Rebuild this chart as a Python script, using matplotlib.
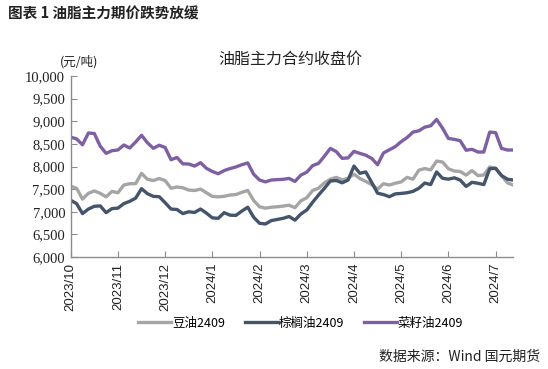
import numpy as np
import matplotlib
matplotlib.use("Agg")
import matplotlib.pyplot as plt

plt.rcParams['font.family'] = ['Noto Sans CJK SC', 'DejaVu Sans']

# month labels (evenly spaced, 8 samples per month)
months = ['2023/10', '2023/11', '2023/12', '2024/1', '2024/2',
          '2024/3', '2024/4', '2024/5', '2024/6', '2024/7']
per_month = 8

# 豆油2409
soy = [7565, 7520, 7280, 7408, 7460, 7408, 7330, 7450, 7420, 7590,
       7620, 7620, 7850, 7717, 7690, 7735, 7690, 7520, 7547, 7530,
       7480, 7470, 7500, 7420, 7340, 7330, 7340, 7370, 7380, 7430,
       7470, 7250, 7110, 7080, 7100, 7110, 7125, 7145, 7090, 7240,
       7310, 7470, 7520, 7640, 7720, 7760, 7705, 7740, 7830, 7735,
       7670, 7600, 7500, 7620, 7591, 7630, 7660, 7760, 7720, 7920,
       7955, 7925, 8120, 8100, 7950, 7900, 7890, 7810, 7910, 7800,
       7812, 7990, 7960, 7800, 7640, 7590]
# 棕榈油2409
palm = [7255, 7180, 6960, 7060, 7120, 7130, 6980, 7070, 7080, 7180,
        7230, 7300, 7510, 7400, 7340, 7333, 7200, 7060, 7050, 6960,
        7000, 6985, 7060, 6970, 6865, 6855, 6980, 6925, 6920, 7015,
        7100, 6880, 6745, 6730, 6805, 6830, 6855, 6895, 6815, 6950,
        7039, 7210, 7370, 7520, 7680, 7690, 7640, 7700, 8010, 7850,
        7880, 7650, 7410, 7380, 7333, 7395, 7405, 7420, 7450, 7520,
        7635, 7600, 7880, 7740, 7720, 7750, 7700, 7560, 7650, 7630,
        7600, 7950, 7960, 7800, 7720, 7700]
# 菜籽油2409
rape = [8650, 8610, 8480, 8740, 8730, 8450, 8290, 8350, 8365, 8475,
        8410, 8540, 8690, 8526, 8402, 8470, 8420, 8150, 8200, 8060,
        8055, 8010, 8085, 7960, 7890, 7840, 7910, 7955, 7990, 8040,
        8080, 7830, 7702, 7660, 7702, 7710, 7717, 7737, 7670, 7810,
        7875, 8020, 8070, 8230, 8400, 8330, 8180, 8190, 8335, 8290,
        8250, 8180, 8040, 8300, 8370, 8440, 8550, 8640, 8760, 8790,
        8870, 8900, 9040, 8850, 8620, 8600, 8570, 8360, 8380, 8320,
        8320, 8760, 8750, 8400, 8365, 8365]

yticks = [6000, 6500, 7000, 7500, 8000, 8500, 9000, 9500, 10000]

fig = plt.figure(figsize=(5.48, 3.69), dpi=100)
ax = fig.add_axes([0.129, 0.3035, 0.8077, 0.4905])

x = np.arange(len(soy))
ax.plot(x, soy, color='#A5A5A5', lw=2.4, label='豆油2409')
ax.plot(x, palm, color='#44546A', lw=2.4, label='棕榈油2409')
ax.plot(x, rape, color='#7E5FA4', lw=2.4, label='菜籽油2409')

ax.set_xlim(0, len(soy) - 1)
ax.set_ylim(6000, 10000)
ax.set_yticks(yticks)
ax.set_yticklabels(['{:,}'.format(v) for v in yticks],
                   family=['Liberation Serif'], fontsize=10.5, color='#222222')
ax.set_xticks(np.arange(len(months)) * per_month)
ax.set_xticklabels(months, rotation=90, family=['Liberation Sans'],
                   fontsize=9.5, color='#222222')

for s in ['top', 'right']:
    ax.spines[s].set_visible(False)
for s in ['left', 'bottom']:
    ax.spines[s].set_color('#8C8C8C')
    ax.spines[s].set_linewidth(1.0)
ax.tick_params(axis='both', direction='in', length=4, color='#8C8C8C', pad=4)

fig.text(0.015, 0.962, '图表 1 油脂主力期价跌势放缓', fontsize=10.5,
         fontweight='bold', ha='left', va='center', color='#222222')
fig.text(0.53, 0.838, '油脂主力合约收盘价', fontsize=11.5, ha='center',
         va='center', color='#222222')
fig.text(0.145, 0.832, '(元/吨)', fontsize=9, ha='center', va='center',
         color='#222222')
fig.text(0.985, 0.032, '数据来源：Wind 国元期货', fontsize=10, ha='right',
         va='center', color='#222222')

ax.legend(loc='center', bbox_to_anchor=(0.52, -0.365), ncol=3, frameon=False,
          fontsize=9, handlelength=2.6, handletextpad=0.1, columnspacing=1.6)

fig.savefig('out.png', dpi=100)
